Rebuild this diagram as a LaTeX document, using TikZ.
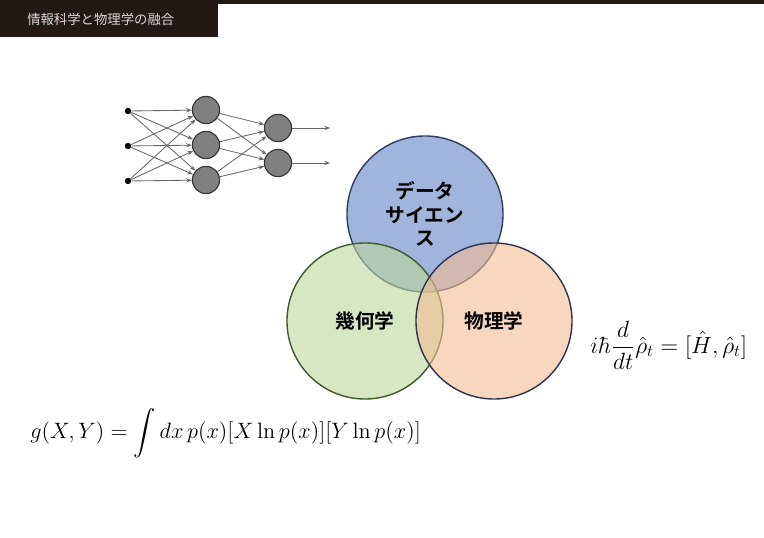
\documentclass[tikz,border=0pt]{standalone}
\usepackage{amsmath}
\usepackage{fontspec}
\newfontfamily\jpfont{Noto Sans CJK JP}[BoldFont={Noto Sans CJK JP Bold}]
\usetikzlibrary{arrows.meta,positioning}
\definecolor{headbg}{HTML}{231815}
\definecolor{dsblue}{HTML}{6182C5}
\definecolor{dsline}{HTML}{2E3E63}
\definecolor{geogreen}{HTML}{BCD59B}
\definecolor{geoline}{HTML}{3D5B2C}
\definecolor{phyorange}{HTML}{F3BC93}
\definecolor{phyline}{HTML}{2B3552}
\tikzset{
      headtitle/.style={
        text=white!85!black,
        font=\jpfont\fontsize{9.5}{11}\selectfont,
        inner sep=0pt
      },
      indot/.style={circle, fill=black, inner sep=0pt, minimum size=0.16cm},
      neuron/.style={
        circle,
        draw=black!80,
        fill=black!50,
        line width=0.8pt,
        minimum size=0.68cm,
        inner sep=0pt
      },
      netarrow/.style={
        draw=black!60,
        line width=0.6pt,
        -{Stealth[length=4pt,width=3pt]}
      },
      venn/.style={
        circle,
        line width=1pt,
        fill opacity=0.6,
        text opacity=1,
        minimum size=3.9cm,
        inner sep=0pt,
        align=center,
        font=\jpfont\bfseries\fontsize{14}{16.5}\selectfont
      }
    }
\begin{document}
\begin{tikzpicture}[x=0.025cm,y=-0.025cm]
    \useasboundingbox (0,0) rectangle (764,538);
    % header
    \fill[headbg] (0,0) rectangle (764,4);
    \fill[headbg] (0,0) rectangle (218,37);
    \node[headtitle, anchor=west] (title) at (27,19) {情報科学と物理学の融合};
    % network
    \foreach \y [count=\i from 0] in {111,146,181}
      \node[indot] (in\i) at (128,\y) {};
    \foreach \y [count=\i from 0] in {110,145,180}
      \node[neuron] (h\i) at (206,\y) {};
    \foreach \y [count=\i from 0] in {128,163}
      \node[neuron] (o\i) at (278,\y) {};
    \foreach \i in {0,1,2}
      \foreach \j in {0,1,2}
        \draw[netarrow] (in\i) -- (h\j);
    \foreach \i in {0,1,2}
      \foreach \j in {0,1}
        \draw[netarrow] (h\i) -- (o\j);
    \foreach \y [count=\j from 0] in {128,163} {
      \coordinate (out\j) at (330,\y);
      \draw[netarrow] (o\j) -- (out\j);
    }
    % venn
    \node[venn, draw=dsline, fill=dsblue] (ds) at (425,214) {データ\\サイエン\\ス};
    \node[venn, draw=geoline, fill=geogreen] (geo) at (365,321) {幾何学};
    \node[venn, draw=phyline, fill=phyorange] (phy) at (494,321) {物理学};
    % equations
    \node[anchor=west, inner sep=0pt] (vonneumann) at (590,345)
      {\scalebox{1.16}{\Large $\displaystyle i\hbar\frac{d}{dt}\hat{\rho}_t=[\hat{H},\hat{\rho}_t]$}};
    \node[anchor=west, inner sep=0pt] (fisher) at (30,433)
      {\scalebox{1.1}{\Large $\displaystyle g(X,Y)=\int dx\,p(x)[X\ln p(x)][Y\ln p(x)]$}};
    \end{tikzpicture}
\end{document}
